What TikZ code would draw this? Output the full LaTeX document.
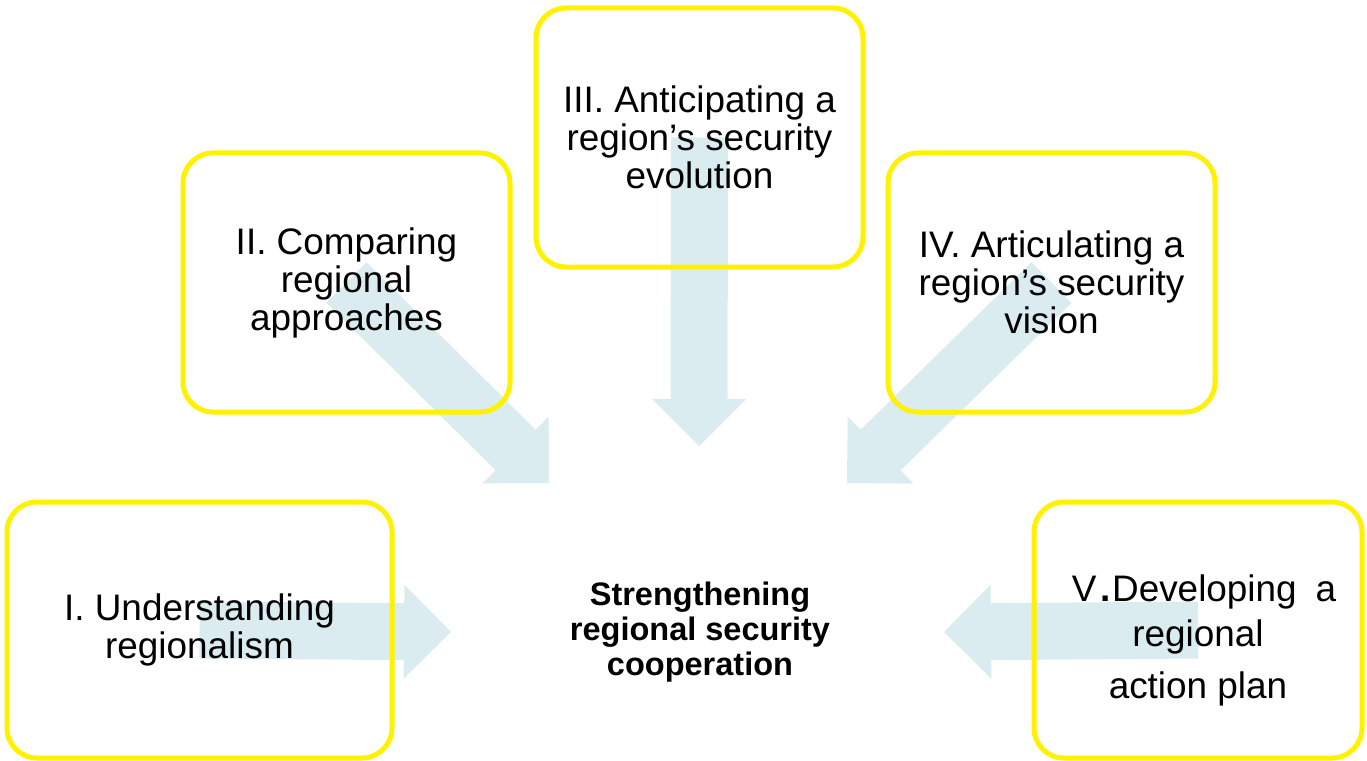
\documentclass[tikz,border=0pt]{standalone}
\usepackage{fontspec}
\setmainfont{Liberation Sans}
\usepackage{tikz}
\usetikzlibrary{positioning,arrows.meta}
\definecolor{paleblue}{RGB}{218,236,239}
\pgfdeclarelayer{background}
\pgfsetlayers{background,main}
\tikzstyle{stage}=[draw=yellow, line width=0.1cm, rounded corners=0.6cm, align=center, minimum width=6.54cm, minimum height=5.18cm, font=\fontsize{21}{21.6}\selectfont]
\tikzstyle{wide}=[stage, minimum width=7.7cm, minimum height=5.12cm]
\tikzstyle{goal}=[align=center, font=\bfseries\fontsize{18.5}{19.9}\selectfont]
\tikzstyle{flow}=[color=paleblue, line width=1.14cm, -{Triangle[width=1.88cm,length=0.94cm,line width=0pt]}]

\begin{document}
\begin{tikzpicture}
\useasboundingbox (0,0) rectangle (27.34,15.2);

\node[wide] at (3.99,2.6) (under) {I. Understanding\\ regionalism};
\node[stage] at (6.93,9.55) (compare) {II. Comparing\\ regional\\ approaches};
\node[stage] at (13.99,12.45) (anticip) {III. Anticipating a\\ region’s security\\ evolution};
\node[stage] at (21.03,9.55) (artic) {IV. Articulating a\\ region’s security\\ vision};
\node[wide, minimum width=6.56cm] at (23.96,2.6) (develop) {\rule{0pt}{0.95cm}\hspace*{7pt}V\hspace{2pt}\textbf{.}\hspace{1pt}Developing\hspace{5pt} a\\[4pt] regional\\[8pt] action plan};

\node[goal] at (14,2.56) (goal) {Strengthening\\ regional security\\ cooperation};

% arrow tips around the goal
\coordinate (t1) at (9.02,2.56);
\coordinate (t2) at (10.98,5.54);
\coordinate (t3) at (13.98,6.28);
\coordinate (t4) at (16.94,5.54);
\coordinate (t5) at (18.88,2.56);

\begin{pgfonlayer}{background}
\draw[flow] (under.center) -- (t1);
\draw[flow] (compare.center) -- (t2);
\draw[flow] (anticip.center) -- (t3);
\draw[flow] (artic.center) -- (t4);
\draw[flow] (develop.center) -- (t5);
\end{pgfonlayer}
\end{tikzpicture}
\end{document}
